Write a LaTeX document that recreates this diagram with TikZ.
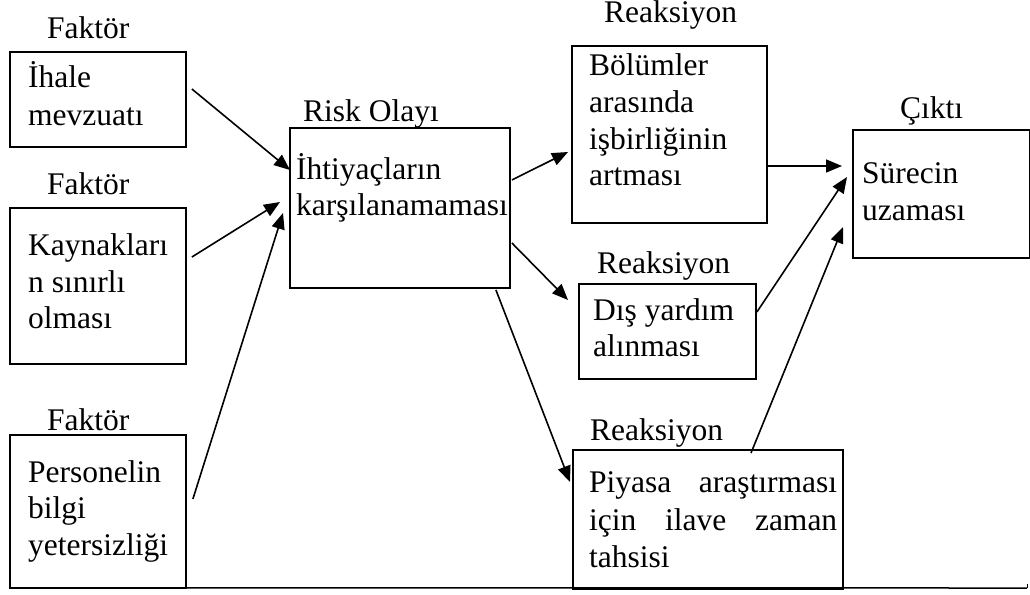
\documentclass[tikz,border=0pt]{standalone}
\usepackage{fontspec}
\setmainfont{Liberation Serif}
\usetikzlibrary{arrows.meta}
\begin{document}
\begin{tikzpicture}[x=1pt,y=-1pt,
  box/.style={draw,line width=1.9pt,inner sep=0,anchor=north west},
  txt/.style={inner sep=0,anchor=base west,font=\fontsize{31.5}{37}\selectfont},
  conn/.style={line width=1.6pt,-{Triangle[length=16pt,width=13pt]}}]
\useasboundingbox (0,0) rectangle (1030,594);
% boxes
\node[box,minimum width=176pt,minimum height=95pt] (f1) at (9,51) {};
\node[box,minimum width=176pt,minimum height=156pt] (f2) at (9,207) {};
\node[box,minimum width=176pt,minimum height=153pt] (f3) at (9,434) {};
\node[box,minimum width=220pt,minimum height=160pt] (risk) at (289,127) {};
\node[box,minimum width=195pt,minimum height=177pt] (r1) at (571,45) {};
\node[box,minimum width=177pt,minimum height=95pt] (r2) at (578,283) {};
\node[box,minimum width=270pt,minimum height=139pt] (r3) at (572,449) {};
\node[box,minimum width=177pt,minimum height=128pt] (out) at (852,129) {};
% labels
\node[txt] (lf1) at (47,38) {Faktör};
\node[txt] (lf2) at (47,194) {Faktör};
\node[txt] (lf3) at (47,430) {Faktör};
\node[txt] (lrisk) at (303,121) {Risk Olayı};
\node[txt] (lr1) at (604,23) {Reaksiyon};
\node[txt] (lr2) at (597,273) {Reaksiyon};
\node[txt] (lr3) at (590,440) {Reaksiyon};
\node[txt] (lout) at (900,118) {Çıktı};
% box texts
\node[txt] (f1a) at (28,88) {İhale};
\node[txt] (f1b) at (28,125) {mevzuatı};
\node[txt] (f2a) at (28,255) {Kaynakları};
\node[txt] (f2b) at (28,292) {n sınırlı};
\node[txt] (f2c) at (28,328) {olması};
\node[txt] (f3a) at (28,482) {Personelin};
\node[txt] (f3b) at (28,518) {bilgi};
\node[txt] (f3c) at (28,555) {yetersizliği};
\node[txt] (ra) at (296,179) {İhtiyaçların};
\node[txt] (rb) at (296,215) {karşılanamaması};
\node[txt] (r1a) at (589,75) {Bölümler};
\node[txt] (r1b) at (589,112) {arasında};
\node[txt] (r1c) at (589,149) {işbirliğinin};
\node[txt] (r1d) at (589,185) {artması};
\node[txt] (r2a) at (593,320) {Dış yardım};
\node[txt] (r2b) at (593,356) {alınması};
\node[txt] (r3a) at (589,492) {\makebox[248pt][s]{Piyasa\hfill araştırması}};
\node[txt] (r3b) at (589,530) {\makebox[248pt][s]{için\hfill ilave\hfill zaman}};
\node[txt] (r3c) at (589,567) {tahsisi};
\node[txt] (oa) at (862,183) {Sürecin};
\node[txt] (ob) at (862,220) {uzaması};
% connectors
\draw[conn] ([shift={(5,38)}]f1.north east) -- ([shift={(1,43)}]risk.north west);
\draw[conn] ([shift={(5,50)}]f2.north east) -- ([shift={(-9,75)}]risk.north west);
\draw[conn] ([shift={(6,65)}]f3.north east) -- ([shift={(-6,86)}]risk.north west);
\draw[conn] ([shift={(1,53)}]risk.north east) -- ([shift={(-3,107)}]r1.north west);
\draw[conn] ([shift={(1,116)}]risk.north east) -- ([shift={(-10,17)}]r2.north west);
\draw[conn] ([shift={(-15,1)}]risk.south east) -- ([shift={(-2,33)}]r3.north west);
\draw[conn] ([shift={(0,121)}]r1.north east) -- ([shift={(-10,37)}]out.north west);
\draw[conn] ([shift={(0,29)}]r2.north east) -- ([shift={(-5,48)}]out.north west);
\draw[conn] ([shift={(179,4)}]r3.north west) -- ([shift={(-9,98)}]out.north west);
% bottom rule
\coordinate (endrule) at (1027,588);
\draw[line width=1.5pt] ([yshift=1pt]f3.south west) -- (endrule);
\draw[line width=1pt] (endrule) -- ++(0,-4);
\end{tikzpicture}
\end{document}
